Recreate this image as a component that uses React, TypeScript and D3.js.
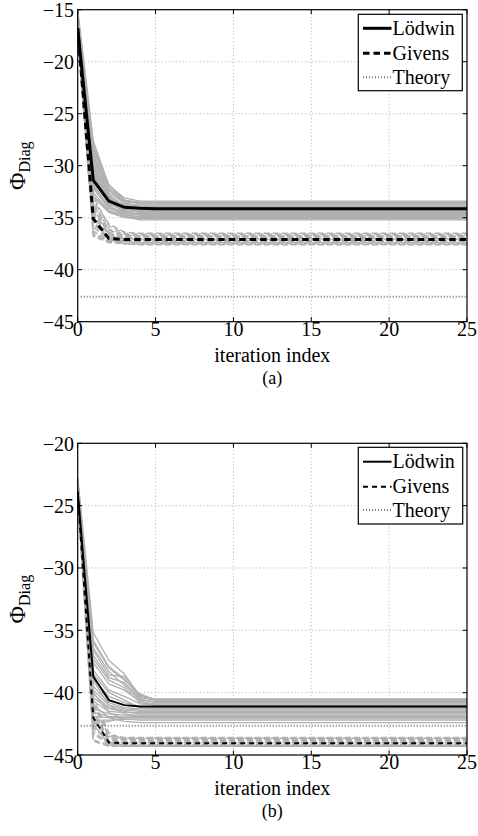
import React from "react";
import * as d3 from "d3";

// Iteration indices at which values are recorded (curves are flat after iteration 5)
const ITER = [0, 1, 2, 3, 4, 5, 25];
const X_TICKS = [0, 5, 10, 15, 20, 25];

// ---------- Panel (a) ----------
const A_Y_TICKS = [-45, -40, -35, -30, -25, -20, -15];
const A_LODWIN = [-16.8, -31.4, -33.4, -34.0, -34.1, -34.15, -34.15];
const A_GIVENS = [-16.8, -35.1, -37.0, -37.1, -37.1, -37.1, -37.1];
const A_THEORY = -42.6;
const A_LODWIN_RUNS = [
  [-15.0, -27.6, -31.9, -33.1, -33.4, -33.4, -33.4],
  [-15.4, -28.2, -32.3, -33.4, -33.6, -33.6, -33.6],
  [-15.8, -28.9, -32.6, -33.6, -33.8, -33.8, -33.8],
  [-16.0, -29.5, -32.9, -33.8, -34.0, -34.0, -34.0],
  [-16.3, -30.2, -33.2, -34.0, -34.2, -34.2, -34.2],
  [-16.5, -30.8, -33.5, -34.2, -34.3, -34.3, -34.3],
  [-16.7, -31.3, -33.7, -34.3, -34.4, -34.4, -34.4],
  [-16.9, -31.8, -33.9, -34.5, -34.6, -34.6, -34.6],
  [-17.1, -32.2, -34.1, -34.6, -34.7, -34.7, -34.7],
  [-17.3, -32.6, -34.3, -34.8, -34.9, -34.9, -34.9],
  [-15.6, -29.0, -33.0, -34.4, -34.8, -34.8, -34.8],
  [-16.1, -29.8, -33.3, -34.6, -35.0, -35.0, -35.0],
  [-16.6, -30.5, -33.8, -34.9, -35.2, -35.2, -35.2],
  [-15.2, -28.4, -31.8, -33.3, -33.5, -33.5, -33.5],
  [-17.4, -33.0, -34.5, -35.0, -35.1, -35.1, -35.1],
  [-15.9, -31.0, -33.2, -33.7, -33.9, -33.9, -33.9],
  [-15.3, -28.0, -32.1, -33.3, -33.7, -33.7, -33.7],
  [-15.7, -29.2, -32.8, -33.9, -34.1, -34.1, -34.1],
  [-16.2, -30.0, -33.0, -34.1, -34.5, -34.5, -34.5],
  [-16.4, -31.5, -33.6, -34.4, -34.7, -34.7, -34.7],
  [-16.8, -32.0, -34.0, -34.7, -34.95, -34.95, -34.95],
  [-17.0, -32.9, -34.4, -34.9, -35.05, -35.05, -35.05],
  [-15.5, -28.6, -32.4, -33.5, -33.55, -33.55, -33.55],
  [-16.0, -30.4, -33.4, -34.3, -34.45, -34.45, -34.45],
];
const A_GIVENS_RUNS = [
  [-15.2, -33.0, -35.8, -36.5, -36.6, -36.6, -36.6],
  [-15.6, -33.6, -36.1, -36.6, -36.7, -36.7, -36.7],
  [-16.0, -34.2, -36.4, -36.8, -36.8, -36.8, -36.8],
  [-16.4, -34.8, -36.7, -36.9, -36.9, -36.9, -36.9],
  [-16.8, -35.4, -36.9, -37.0, -37.0, -37.0, -37.0],
  [-17.0, -35.9, -37.1, -37.2, -37.2, -37.2, -37.2],
  [-17.2, -36.3, -37.2, -37.3, -37.3, -37.3, -37.3],
  [-17.4, -36.8, -37.4, -37.5, -37.5, -37.5, -37.5],
  [-15.8, -34.0, -36.6, -37.3, -37.4, -37.4, -37.4],
  [-16.2, -35.0, -37.0, -37.5, -37.6, -37.6, -37.6],
  [-16.6, -33.4, -35.6, -36.4, -36.5, -36.5, -36.5],
  [-15.4, -36.5, -37.3, -37.1, -37.1, -37.1, -37.1],
  [-15.9, -33.8, -36.2, -36.7, -36.75, -36.75, -36.75],
  [-16.3, -34.5, -36.5, -36.95, -37.0, -37.0, -37.0],
  [-16.9, -35.6, -37.0, -37.25, -37.3, -37.3, -37.3],
  [-17.3, -36.6, -37.3, -37.45, -37.45, -37.45, -37.45],
];

// ---------- Panel (b) ----------
const B_Y_TICKS = [-45, -40, -35, -30, -25, -20];
const B_LODWIN = [-23.9, -38.7, -40.6, -41.0, -41.1, -41.1, -41.1];
const B_GIVENS = [-23.9, -42.0, -44.0, -44.05, -44.05, -44.05, -44.05];
const B_THEORY = -42.65;
const B_LODWIN_RUNS = [
  [-22.7, -35.2, -37.4, -38.5, -40.3, -40.5, -40.5],
  [-23.0, -35.8, -37.9, -38.9, -40.4, -40.6, -40.6],
  [-23.2, -36.4, -38.3, -39.4, -40.6, -40.7, -40.7],
  [-23.4, -37.0, -38.8, -39.2, -40.5, -40.8, -40.8],
  [-23.6, -37.6, -39.3, -39.8, -40.7, -40.9, -40.9],
  [-23.8, -38.2, -39.8, -40.3, -40.9, -41.0, -41.0],
  [-24.0, -38.9, -40.3, -40.8, -41.1, -41.2, -41.2],
  [-24.1, -39.5, -40.8, -41.2, -41.3, -41.3, -41.3],
  [-24.2, -40.1, -41.2, -41.4, -41.5, -41.5, -41.5],
  [-24.3, -40.7, -41.5, -41.6, -41.6, -41.6, -41.6],
  [-24.4, -41.3, -41.7, -41.8, -41.8, -41.8, -41.8],
  [-24.5, -41.9, -42.0, -42.0, -42.0, -42.0, -42.0],
  [-23.1, -39.0, -41.0, -41.7, -41.9, -41.9, -41.9],
  [-23.5, -40.0, -41.6, -42.1, -42.2, -42.2, -42.2],
  [-23.9, -41.0, -42.0, -42.3, -42.4, -42.4, -42.4],
  [-22.9, -36.0, -38.0, -39.0, -40.1, -40.6, -40.6],
  [-24.4, -42.5, -42.3, -42.0, -41.9, -41.9, -41.9],
  [-23.3, -37.3, -39.0, -39.6, -40.8, -41.0, -41.0],
  [-23.7, -38.5, -40.0, -40.6, -41.2, -41.3, -41.3],
  [-24.0, -39.8, -41.0, -41.3, -41.4, -41.4, -41.4],
  [-24.2, -40.4, -41.3, -41.5, -41.7, -41.7, -41.7],
  [-23.0, -36.6, -38.6, -38.7, -40.2, -40.55, -40.55],
  [-23.8, -41.6, -41.9, -41.95, -41.95, -41.95, -41.95],
  [-24.3, -42.2, -42.2, -42.15, -42.1, -42.1, -42.1],
];
const B_GIVENS_RUNS = [
  [-23.0, -41.0, -43.4, -43.6, -43.6, -43.6, -43.6],
  [-23.3, -41.6, -43.6, -43.7, -43.7, -43.7, -43.7],
  [-23.6, -42.2, -43.8, -43.85, -43.85, -43.85, -43.85],
  [-23.9, -42.8, -43.9, -43.95, -43.95, -43.95, -43.95],
  [-24.2, -43.3, -44.1, -44.1, -44.1, -44.1, -44.1],
  [-24.4, -43.8, -44.2, -44.2, -44.2, -44.2, -44.2],
  [-23.1, -43.9, -44.3, -44.3, -44.3, -44.3, -44.3],
  [-23.7, -40.5, -43.2, -43.8, -43.8, -43.8, -43.8],
  [-24.0, -41.3, -44.0, -44.25, -44.25, -44.25, -44.25],
  [-22.8, -42.5, -44.2, -44.3, -44.3, -44.3, -44.3],
  [-23.4, -41.9, -43.7, -43.75, -43.75, -43.75, -43.75],
  [-23.8, -42.6, -44.0, -44.0, -44.0, -44.0, -44.0],
  [-24.1, -43.1, -44.15, -44.15, -44.15, -44.15, -44.15],
  [-22.9, -40.8, -43.5, -43.65, -43.65, -43.65, -43.65],
];

const LEGEND_LABELS = ["Lödwin", "Givens", "Theory"];

const FONT = "'Liberation Serif', 'Times New Roman', Times, serif";
const GRAY = "#b0b0b0";
const THEORY_COLOR = "#7a7a7a";

type PanelProps = {
  top: number;
  bottom: number;
  yDomain: [number, number];
  yTicks: number[];
  lodwin: number[];
  givens: number[];
  theory: number;
  lodwinRuns: number[][];
  givensRuns: number[][];
  mainWidth: number;
  dash: string;
  caption: string;
  legend: { x: number; y: number; w: number; h: number; rows: number[] };
};

const LEFT = 77.7;
const RIGHT = 467;

function Panel(p: PanelProps) {
  const x = d3.scaleLinear().domain([0, 25]).range([LEFT, RIGHT]);
  const y = d3.scaleLinear().domain(p.yDomain).range([p.bottom, p.top]);
  const line = d3
    .line<number>()
    .x((_, i) => x(ITER[i]))
    .y((v) => y(v));
  const tickLen = 4.5;
  const midY = (p.top + p.bottom) / 2;
  const midX = (LEFT + RIGHT) / 2;
  const clipId = "clip" + p.caption.replace(/\W/g, "");
  const lg = p.legend;
  return (
    <g>
      <defs>
        <clipPath id={clipId}>
          <rect x={LEFT} y={p.top} width={RIGHT - LEFT} height={p.bottom - p.top} />
        </clipPath>
      </defs>
      {/* grid */}
      {X_TICKS.slice(1, -1).map((t) => (
        <line key={"gx" + t} x1={x(t)} x2={x(t)} y1={p.top} y2={p.bottom}
          stroke="#9a9a9a" strokeWidth={0.8} strokeDasharray="1,2.5" />
      ))}
      {p.yTicks.slice(1, -1).map((t) => (
        <line key={"gy" + t} x1={LEFT} x2={RIGHT} y1={y(t)} y2={y(t)}
          stroke="#9a9a9a" strokeWidth={0.8} strokeDasharray="1,2.5" />
      ))}
      <g clipPath={`url(#${clipId})`}>
        {p.lodwinRuns.map((r, i) => (
          <path key={"lr" + i} d={line(r) || ""} fill="none" stroke={GRAY} strokeWidth={1.3} />
        ))}
        {p.givensRuns.map((r, i) => (
          <path key={"gr" + i} d={line(r) || ""} fill="none" stroke={GRAY} strokeWidth={1.5}
            strokeDasharray="6,3" />
        ))}
        <path d={line(p.lodwin) || ""} fill="none" stroke="#000" strokeWidth={p.mainWidth} />
        <path d={line(p.givens) || ""} fill="none" stroke="#000" strokeWidth={p.mainWidth}
          strokeDasharray={p.dash} />
        <line x1={x(0) + 3} x2={x(25)} y1={y(p.theory)} y2={y(p.theory)}
          stroke={THEORY_COLOR} strokeWidth={2} strokeDasharray="1,2" />
      </g>
      {/* ticks */}
      {X_TICKS.map((t) => (
        <g key={"tx" + t}>
          <line x1={x(t)} x2={x(t)} y1={p.bottom} y2={p.bottom - tickLen} stroke="#000" />
          <line x1={x(t)} x2={x(t)} y1={p.top} y2={p.top + tickLen} stroke="#000" />
          <text x={x(t)} y={p.bottom + 14} textAnchor="middle" fontSize={20} fontFamily={FONT}>
            {t}
          </text>
        </g>
      ))}
      {p.yTicks.map((t) => (
        <g key={"ty" + t}>
          <line x1={LEFT} x2={LEFT + tickLen} y1={y(t)} y2={y(t)} stroke="#000" />
          <line x1={RIGHT} x2={RIGHT - tickLen} y1={y(t)} y2={y(t)} stroke="#000" />
          <text x={74} y={y(t) + 7.5} textAnchor="end" fontSize={20} fontFamily={FONT}>
            {"\u2212" + Math.abs(t)}
          </text>
        </g>
      ))}
      <rect x={LEFT} y={p.top} width={RIGHT - LEFT} height={p.bottom - p.top}
        fill="none" stroke="#000" strokeWidth={1.2} />
      {/* axis labels */}
      <text x={midX} y={p.bottom + 40} textAnchor="middle" fontSize={20} fontFamily={FONT}>
        iteration index
      </text>
      <text transform={`translate(25,${midY}) rotate(-90)`} textAnchor="middle"
        fontFamily={FONT} fontSize={24}>
        Φ<tspan fontSize={16} dy={5}>Diag</tspan>
      </text>
      <text x={midX} y={p.bottom + 62} textAnchor="middle" fontSize={18} fontFamily={FONT}>
        {p.caption}
      </text>
      {/* legend */}
      <rect x={lg.x} y={lg.y} width={lg.w} height={lg.h} fill="#fff" stroke="#000" strokeWidth={1.2} />
      {LEGEND_LABELS.map((lab, i) => {
        const ry = lg.rows[i];
        const stroke = i === 2 ? THEORY_COLOR : "#000";
        const sw = i === 2 ? 2 : p.mainWidth;
        const da = i === 0 ? undefined : i === 1 ? p.dash : "1,2";
        return (
          <g key={lab}>
            <line x1={363} x2={391.5} y1={ry} y2={ry} stroke={stroke} strokeWidth={sw}
              strokeDasharray={da} />
            <text x={392.5} y={ry + 6.5} fontSize={20} fontFamily={FONT}>
              {lab}
            </text>
          </g>
        );
      })}
    </g>
  );
}

export default function App() {
  return (
    <svg width={478} height={836} style={{ position: "absolute", left: 0, top: 0, background: "#fff" }}>
      <rect width={478} height={836} fill="#fff" />
      <Panel
        top={9.7}
        bottom={321.7}
        yDomain={[-45, -15]}
        yTicks={A_Y_TICKS}
        lodwin={A_LODWIN}
        givens={A_GIVENS}
        theory={A_THEORY}
        lodwinRuns={A_LODWIN_RUNS}
        givensRuns={A_GIVENS_RUNS}
        mainWidth={3}
        dash="6.5,4"
        caption="(a)"
        legend={{ x: 358.3, y: 14.3, w: 104, h: 76.4, rows: [28.3, 53.3, 77.3] }}
      />
      <Panel
        top={443.3}
        bottom={755}
        yDomain={[-45, -20]}
        yTicks={B_Y_TICKS}
        lodwin={B_LODWIN}
        givens={B_GIVENS}
        theory={B_THEORY}
        lodwinRuns={B_LODWIN_RUNS}
        givensRuns={B_GIVENS_RUNS}
        mainWidth={2}
        dash="5,4"
        caption="(b)"
        legend={{ x: 358.3, y: 447.3, w: 104.4, h: 76.7, rows: [461.7, 486.7, 510] }}
      />
    </svg>
  );
}
